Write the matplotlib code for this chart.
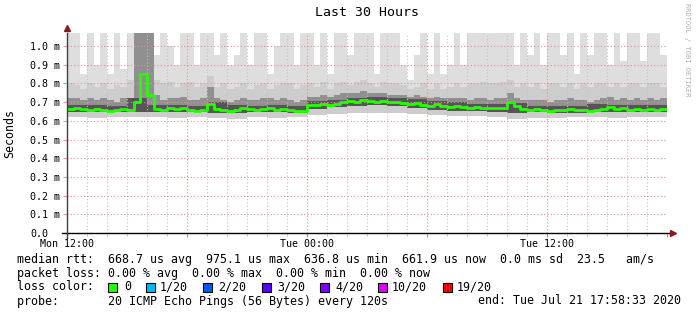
import numpy as np
import matplotlib.pyplot as plt
from matplotlib.patches import Rectangle

# 20-minute bins over the last 30 hours (Mon 12:00 -> Tue 18:00), values in ms
median = [0.665, 0.67, 0.665, 0.66, 0.665, 0.66, 0.655, 0.66, 0.665, 0.66,
          0.70, 0.85, 0.74, 0.665, 0.66, 0.67, 0.665, 0.67, 0.66, 0.655,
          0.66, 0.69, 0.665, 0.66, 0.655, 0.66, 0.67, 0.665, 0.66, 0.665,
          0.67, 0.66, 0.665, 0.66, 0.655, 0.655, 0.685, 0.685, 0.69, 0.685,
          0.69, 0.70, 0.705, 0.70, 0.71, 0.705, 0.70, 0.705, 0.70, 0.70,
          0.695, 0.69, 0.695, 0.685, 0.68, 0.69, 0.68, 0.675, 0.68, 0.675,
          0.67, 0.675, 0.67, 0.67, 0.67, 0.67, 0.70, 0.68, 0.665, 0.66,
          0.665, 0.66, 0.655, 0.66, 0.66, 0.665, 0.66, 0.66, 0.655, 0.66,
          0.665, 0.675, 0.665, 0.67, 0.66, 0.665, 0.66, 0.665, 0.66, 0.665]

smoke_dark_hi = [0.72, 0.72, 0.71, 0.72, 0.71, 0.72, 0.71, 0.70, 0.72, 0.72,
                 1.07, 1.07, 1.07, 0.74, 0.71, 0.72, 0.72, 0.73, 0.71, 0.71,
                 0.72, 0.78, 0.72, 0.71, 0.70, 0.71, 0.72, 0.71, 0.71, 0.72,
                 0.72, 0.71, 0.72, 0.71, 0.70, 0.71, 0.73, 0.73, 0.74, 0.73,
                 0.74, 0.75, 0.75, 0.75, 0.76, 0.75, 0.75, 0.75, 0.74, 0.74,
                 0.74, 0.73, 0.74, 0.73, 0.72, 0.73, 0.72, 0.72, 0.72, 0.72,
                 0.71, 0.72, 0.72, 0.71, 0.72, 0.72, 0.75, 0.72, 0.71, 0.71,
                 0.71, 0.71, 0.70, 0.71, 0.71, 0.72, 0.71, 0.71, 0.70, 0.71,
                 0.72, 0.73, 0.71, 0.72, 0.71, 0.72, 0.71, 0.72, 0.71, 0.72]

smoke_mid_hi = [0.80, 0.79, 0.77, 0.80, 0.78, 0.80, 0.77, 0.79, 0.78, 0.82,
                1.07, 1.07, 1.07, 0.82, 0.80, 0.81, 0.78, 0.80, 0.81, 0.78,
                0.80, 0.84, 0.78, 0.80, 0.77, 0.78, 0.80, 0.77, 0.79, 0.80,
                0.77, 0.79, 0.80, 0.80, 0.77, 0.79, 0.80, 0.78, 0.81, 0.77,
                0.80, 0.81, 0.79, 0.81, 0.82, 0.80, 0.78, 0.81, 0.80, 0.80,
                0.79, 0.77, 0.78, 0.80, 0.77, 0.80, 0.77, 0.78, 0.80, 0.78,
                0.80, 0.80, 0.81, 0.80, 0.80, 0.81, 0.82, 0.78, 0.80, 0.78,
                0.80, 0.77, 0.80, 0.80, 0.78, 0.80, 0.77, 0.80, 0.78, 0.80,
                0.80, 0.78, 0.80, 0.78, 0.80, 0.80, 0.78, 0.80, 0.80, 0.78]

smoke_max = [1.07, 1.07, 0.85, 1.07, 0.90, 1.07, 0.85, 1.07, 0.88, 1.07,
             1.07, 1.07, 1.07, 0.95, 1.07, 1.00, 0.90, 1.07, 1.07, 0.90,
             1.07, 1.07, 0.95, 1.07, 0.90, 0.95, 1.07, 0.90, 1.07, 1.07,
             0.85, 1.00, 1.07, 1.07, 0.90, 1.07, 1.07, 0.90, 1.07, 0.85,
             1.07, 1.07, 0.95, 1.07, 1.07, 1.07, 0.85, 1.07, 1.07, 1.07,
             0.90, 0.82, 0.95, 1.07, 0.85, 1.07, 0.85, 0.90, 1.07, 0.90,
             1.07, 1.07, 1.07, 1.07, 1.07, 1.07, 1.07, 0.90, 1.07, 0.95,
             1.07, 0.90, 1.07, 1.07, 0.95, 1.07, 0.85, 1.07, 0.95, 1.07,
             1.07, 0.90, 1.07, 0.92, 1.07, 1.07, 0.92, 1.07, 1.07, 0.95]

# hourly edges of the smoke
smoke_min = [0.62, 0.615, 0.62, 0.62, 0.62, 0.615, 0.62, 0.615, 0.61, 0.62,
             0.615, 0.62, 0.63, 0.635, 0.64, 0.64, 0.64, 0.635, 0.63, 0.625,
             0.625, 0.62, 0.61, 0.615, 0.615, 0.62, 0.62, 0.615, 0.62, 0.62]
smoke_dark_lo = [0.645, 0.645, 0.645, 0.645, 0.645, 0.645, 0.645, 0.64, 0.64, 0.645,
                 0.645, 0.64, 0.665, 0.675, 0.68, 0.685, 0.68, 0.67, 0.66, 0.655,
                 0.655, 0.65, 0.64, 0.645, 0.64, 0.64, 0.645, 0.645, 0.645, 0.645]
smoke_core_hi = [0.685, 0.685, 0.68, 0.72, 0.685, 0.685, 0.68, 0.70, 0.685, 0.68,
                 0.685, 0.68, 0.705, 0.71, 0.72, 0.725, 0.72, 0.715, 0.705, 0.70,
                 0.69, 0.69, 0.695, 0.68, 0.68, 0.68, 0.69, 0.685, 0.685, 0.685]

y_ticks = [0.0, 0.1, 0.2, 0.3, 0.4, 0.5, 0.6, 0.7, 0.8, 0.9, 1.0]
y_tick_labels = ['0.0', '0.1 m', '0.2 m', '0.3 m', '0.4 m', '0.5 m',
                 '0.6 m', '0.7 m', '0.8 m', '0.9 m', '1.0 m']
x_major = [0, 6, 12, 18, 24, 30]
x_labels = ['Mon 12:00', '', 'Tue 00:00', '', 'Tue 12:00', '']

loss_labels = ['0', '1/20', '2/20', '3/20', '4/20', '10/20', '19/20']
loss_colors = ['#26ff00', '#00b8ff', '#0059ff', '#5e00ff', '#7e00ff', '#dd00ff', '#ff0000']

legend_lines = [
    'median rtt:  668.7 us avg  975.1 us max  636.8 us min  661.9 us now  0.0 ms sd  23.5   am/s',
    'packet loss: 0.00 % avg  0.00 % max  0.00 % min  0.00 % now',
    'loss color:',
    'probe:       20 ICMP Echo Pings (56 Bytes) every 120s',
]
end_text = 'end: Tue Jul 21 17:58:33 2020'

W, H = 697, 315
mono = 'DejaVu Sans Mono'

fig = plt.figure(figsize=(W / 100, H / 100), dpi=100)
ax = fig.add_axes([67 / W, (H - 233) / H, 600 / W, 200 / H])

t = np.arange(len(median) + 1) / 3.0


def ext(a):
    return np.append(a, a[-1])


lo90 = np.repeat(smoke_min, 3)
dlo90 = np.repeat(smoke_dark_lo, 3)
core90 = np.repeat(smoke_core_hi, 3)

ax.fill_between(t, ext(lo90), ext(smoke_max), step='post', color='#dedede', lw=0, zorder=1)
ax.fill_between(t, ext(lo90), ext(smoke_mid_hi), step='post', color='#cdcdcd', lw=0, zorder=1.1)
ax.fill_between(t, ext(dlo90), ext(smoke_dark_hi), step='post', color='#909090', lw=0, zorder=1.2)
ax.fill_between(t, ext(dlo90), ext(core90), step='post', color='#555555', lw=0, zorder=1.3)
ax.step(t, ext(median), where='post', color='#26ff00', lw=2.0, zorder=4)

ax.set_xlim(0, 30)
ax.set_ylim(0, 1.07)

ax.set_xticks(x_major)
ax.set_xticklabels(x_labels, fontfamily=mono, fontsize=7.2)
ax.set_xticks(range(0, 31), minor=True)
ax.set_yticks(y_ticks)
ax.set_yticklabels(y_tick_labels, fontfamily=mono, fontsize=7.2, ha='left')

ax.tick_params(axis='y', length=3, color='#e0a0a0', pad=23.5)
ax.tick_params(axis='x', which='major', length=3, color='#e08080', pad=1)
ax.tick_params(axis='x', which='minor', length=2, color='#bbbbbb')

ax.set_axisbelow(False)
ax.grid(True, which='major', axis='both', color='#e09090', ls=(0, (1, 2)), lw=0.8, zorder=3)
ax.grid(True, which='minor', axis='x', color='#c4c4c4', ls=(0, (1, 2)), lw=0.8, zorder=2.9)

for s in ['top', 'right', 'bottom', 'left']:
    ax.spines[s].set_visible(False)

# axis lines with arrow heads
ax.plot([-0.25, 30.2], [0, 0], color='black', lw=1, clip_on=False, zorder=5)
ax.plot([0, 0], [-0.025, 1.07], color='#404040', lw=1, clip_on=False, zorder=5)
ax.plot([30.3], [0], marker='>', color='#8b1a1a', ms=4, clip_on=False, zorder=6)
ax.plot([0], [1.095], marker='^', color='#8b1a1a', ms=4, clip_on=False, zorder=6)

fig.text(367 / W, 1 - 13 / H, 'Last 30 Hours', fontfamily=mono, fontsize=9.5,
         ha='center', va='center')
fig.text(10 / W, 1 - 133 / H, 'Seconds', fontfamily=mono, fontsize=8.4,
         rotation=90, ha='center', va='center')
fig.text(687 / W, 1 - 50 / H, 'RRDTOOL / TOBI OETIKER', fontfamily=mono, fontsize=5.0,
         rotation=270, ha='center', va='center', color='#b0b0b0')

line_y = [259, 273, 287, 301]
for txt, yy in zip(legend_lines, line_y):
    fig.text(17 / W, 1 - yy / H, txt, fontfamily=mono, fontsize=8.35,
             ha='left', va='center')
fig.text(478 / W, 1 - 301 / H, end_text, fontfamily=mono, fontsize=8.35,
         ha='left', va='center')

box_x = [108, 146, 203, 262, 320, 378, 443]
lab_x = [124, 160, 218, 277, 335, 392, 457]
for lab, col, bx, lx in zip(loss_labels, loss_colors, box_x, lab_x):
    fig.patches.append(Rectangle((bx / W, 1 - 292 / H), 9 / W, 9 / H,
                                 transform=fig.transFigure, facecolor=col,
                                 edgecolor='black', lw=0.8))
    fig.text(lx / W, 1 - 287 / H, lab, fontfamily=mono, fontsize=8.35,
             ha='left', va='center')

fig.savefig('out.png', dpi=100)
